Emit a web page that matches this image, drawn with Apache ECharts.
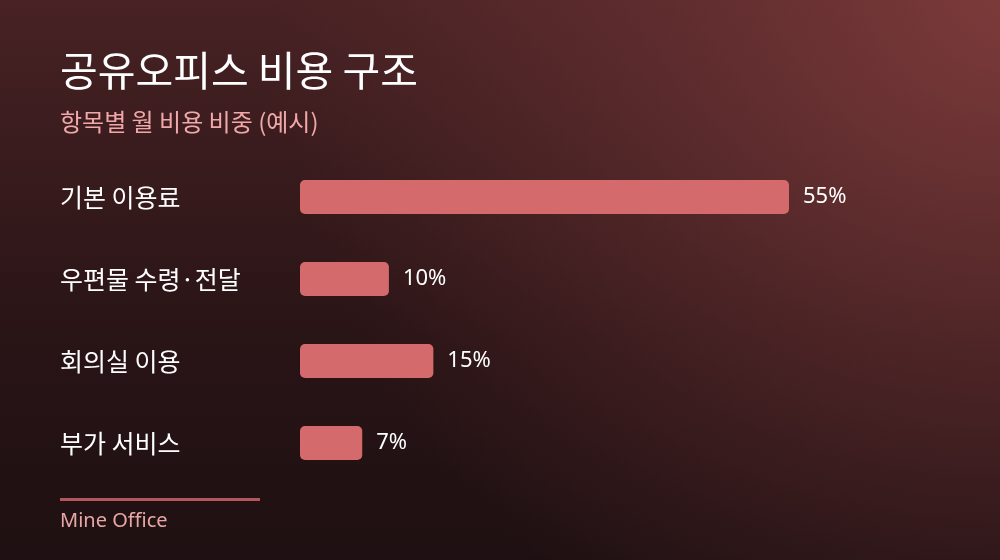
<!DOCTYPE html>
<html><head><meta charset="utf-8">
<script src="https://cdn.jsdelivr.net/npm/echarts@6/dist/echarts.min.js"></script>
<style>html,body{margin:0;padding:0;background:#1e1012}#c{width:1000px;height:560px}</style>
</head><body><div id="c"></div>
<script>
const titleText = '공유오피스 비용 구조';
const subtitleText = '항목별 월 비용 비중 (예시)';
const sourceText = 'Mine Office';
const categories = ['기본 이용료', '우편물 수령·전달', '회의실 이용', '부가 서비스'];
const shares = [55, 10, 15, 7];

const FONT = '"Noto Sans CJK KR", "Noto Sans", sans-serif';
const LATIN = '"Noto Sans", "Noto Sans CJK KR", sans-serif';
const chart = echarts.init(document.getElementById('c'), null, {renderer: 'canvas'});
chart.setOption({
  backgroundColor: {
    type: 'linear', x: 0, y: 0, x2: 0, y2: 1,
    colorStops: [{offset: 0, color: '#482224'}, {offset: 0.6, color: '#291416'}, {offset: 1, color: '#1e1012'}]
  },
  graphic: [
    {type: 'rect', z: -10, silent: true, shape: {x: 0, y: 0, width: 1000, height: 560},
      style: {fill: {type: 'radial', x: 1, y: 0, r: 1.3,
        colorStops: [{offset: 0, color: 'rgba(128,60,60,0.92)'}, {offset: 0.45, color: 'rgba(120,56,57,0.5)'}, {offset: 1, color: 'rgba(110,50,52,0)'}]}}},
    {type: 'text', x: 60, y: 70, style: {text: titleText, fill: '#ffffff', font: '400 41px ' + FONT, textVerticalAlign: 'middle'}},
    {type: 'text', x: 60, y: 122, style: {text: subtitleText, fill: '#f0a8a8', font: '24px ' + FONT, textVerticalAlign: 'middle'}},
    {type: 'rect', shape: {x: 60, y: 498, width: 200, height: 3}, style: {fill: '#b0585c'}},
    {type: 'text', x: 60, y: 521, style: {text: sourceText, fill: '#e8a6a6', font: '20px ' + LATIN, textVerticalAlign: 'middle'}}
  ],
  grid: {left: 300, right: 211, top: 156, bottom: 76, containLabel: false},
  xAxis: {type: 'value', min: 0, max: 55, show: false},
  yAxis: {
    type: 'category', data: categories, inverse: true,
    axisLine: {show: false}, axisTick: {show: false},
    axisLabel: {color: '#ffffff', fontSize: 25, fontFamily: FONT, align: 'left', margin: 240, padding: [0, 0, 8, 0]}
  },
  series: [{
    type: 'bar', data: shares, barWidth: 34,
    itemStyle: {color: '#d46a6c', borderRadius: 5},
    label: {show: true, position: 'right', distance: 14, formatter: '{c}%', color: '#ffffff', fontSize: 22, fontFamily: LATIN}
  }]
});
</script></body></html>
